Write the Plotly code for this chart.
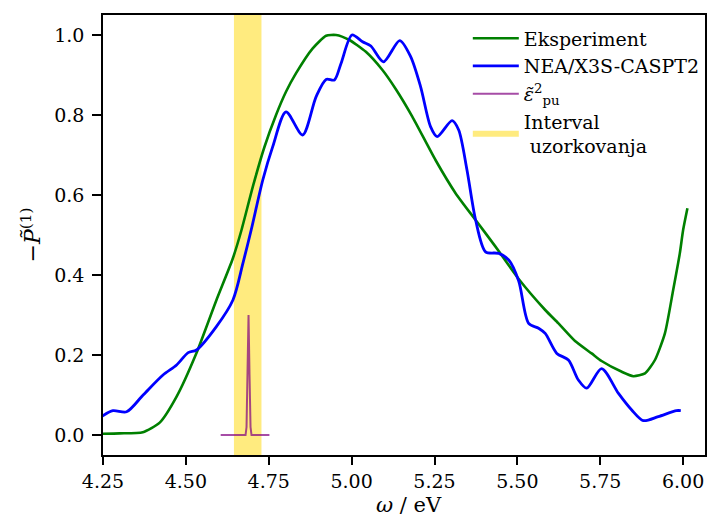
import plotly.graph_objects as go

# Eksperiment
exp_x = [4.25, 4.30, 4.37, 4.421, 4.472, 4.532, 4.592, 4.641, 4.667, 4.702, 4.737, 4.772, 4.802,
         4.832, 4.882, 4.923, 4.953, 4.993, 5.043, 5.093, 5.133, 5.183, 5.253, 5.314, 5.374,
         5.434, 5.504, 5.584, 5.624, 5.674, 5.724, 5.754, 5.815, 5.85, 5.885, 5.915, 5.945,
         5.97, 5.99, 6.0, 6.013]
exp_y = [0.003, 0.004, 0.007, 0.031, 0.096, 0.205, 0.337, 0.44, 0.51, 0.621, 0.72, 0.8, 0.858,
         0.904, 0.966, 0.998, 1.0, 0.9875, 0.958, 0.9125, 0.865, 0.796, 0.6875, 0.604, 0.5375,
         0.471, 0.39, 0.3125, 0.279, 0.235, 0.204, 0.185, 0.158, 0.147, 0.154, 0.1875, 0.254,
         0.3625, 0.454, 0.5125, 0.567]

# NEA/X3S-CASPT2
th_x = [4.245, 4.28, 4.321, 4.371, 4.431, 4.472, 4.507, 4.532, 4.592, 4.642, 4.672, 4.697,
        4.732, 4.762, 4.802, 4.852, 4.893, 4.923, 4.948, 4.968, 5.001, 5.033, 5.058, 5.096,
        5.145, 5.178, 5.208, 5.238, 5.258, 5.303, 5.323, 5.348, 5.374, 5.404, 5.444, 5.474,
        5.504, 5.534, 5.564, 5.584, 5.619, 5.654, 5.684, 5.709, 5.754, 5.805, 5.845, 5.88,
        5.925, 5.98, 5.993]
th_y = [0.046, 0.061, 0.058, 0.10, 0.15, 0.175, 0.206, 0.2125, 0.271, 0.3375, 0.429, 0.5125,
        0.6375, 0.721, 0.808, 0.75, 0.846, 0.889, 0.8875, 0.929, 1.0, 0.983, 0.9725, 0.933,
        0.986, 0.946, 0.871, 0.771, 0.746, 0.786, 0.7625, 0.6625, 0.5375, 0.458, 0.454, 0.4375,
        0.385, 0.279, 0.267, 0.254, 0.204, 0.1875, 0.1375, 0.117, 0.166, 0.104, 0.0625, 0.036,
        0.046, 0.061, 0.061]

# pump pulse spectrum
pu_x = [4.605, 4.680, 4.683, 4.686, 4.689, 4.692, 4.695, 4.698, 4.752]
pu_y = [0.0, 0.0, 0.02, 0.15, 0.30, 0.15, 0.02, 0.0, 0.0]

# sampling interval
band = [4.645, 4.728]
y_lim = [-0.05, 1.05]
x_lim = [4.25, 6.066]

x_ticks = [4.25, 4.50, 4.75, 5.00, 5.25, 5.50, 5.75, 6.00]
y_ticks = [0.0, 0.2, 0.4, 0.6, 0.8, 1.0]

fig = go.Figure()

fig.add_trace(go.Scatter(
    x=[band[0], band[1], band[1], band[0], band[0]],
    y=[y_lim[0], y_lim[0], y_lim[1], y_lim[1], y_lim[0]],
    fill="toself", fillcolor="rgba(255,215,0,0.5)", mode="none",
    name="Interval<br> uzorkovanja", legendrank=4, legendgroup="d", hoverinfo="skip"))
fig.add_trace(go.Scatter(x=exp_x, y=exp_y, mode="lines", name="Eksperiment",
                         line=dict(color="#008000", width=2.6, shape="spline", smoothing=0.6),
                         legendrank=1, legendgroup="a"))
fig.add_trace(go.Scatter(x=th_x, y=th_y, mode="lines", name="NEA/X3S-CASPT2",
                         line=dict(color="#0000ff", width=2.8, shape="spline", smoothing=0.8),
                         legendrank=2, legendgroup="b"))
fig.add_trace(go.Scatter(x=pu_x, y=pu_y, mode="lines",
                         name="<i>ε̃</i><sup>2</sup><sub>pu</sub>",
                         line=dict(color="rgba(128,0,128,0.7)", width=2),
                         legendrank=3, legendgroup="c"))

axis_common = dict(showline=True, linecolor="black", linewidth=1.6, mirror=True,
                   ticks="outside", tickwidth=1.6, tickcolor="black",
                   showgrid=False, zeroline=False,
                   tickfont=dict(family="DejaVu Serif", size=19, color="black"))

fig.update_layout(
    width=709, height=524,
    margin=dict(l=103, r=2, t=15, b=69),
    plot_bgcolor="white", paper_bgcolor="white",
    showlegend=True,
    legend=dict(x=0.606, y=0.99, xanchor="left", yanchor="top",
                bgcolor="rgba(255,255,255,0)", borderwidth=0,
                itemwidth=46,
                font=dict(family="DejaVu Serif", size=19, color="black"),
                tracegroupgap=0),
    xaxis=dict(range=x_lim, tickvals=x_ticks, ticklen=8,
               ticktext=[f"{v:.2f}" for v in x_ticks],
               **axis_common),
    yaxis=dict(range=y_lim, tickvals=y_ticks, ticklen=9,
               ticktext=[f"{v:.1f}" for v in y_ticks],
               ticklabelstandoff=4,
               title=dict(text="−<i>P̃</i><sup>(1)</sup>", font=dict(family="DejaVu Serif", size=22, color="black"),
                          standoff=7),
               **axis_common),
    annotations=[dict(text="<i>ω</i> / eV", xref="paper", yref="paper",
                      x=0.508, y=-0.113, xanchor="center", yanchor="middle",
                      showarrow=False,
                      font=dict(family="DejaVu Serif", size=21, color="black"))],
)

fig.write_html("out.html",
               config={"displayModeBar": False},
               post_script="document.body.style.margin='0px';"
                           "document.documentElement.style.overflow='hidden';")
